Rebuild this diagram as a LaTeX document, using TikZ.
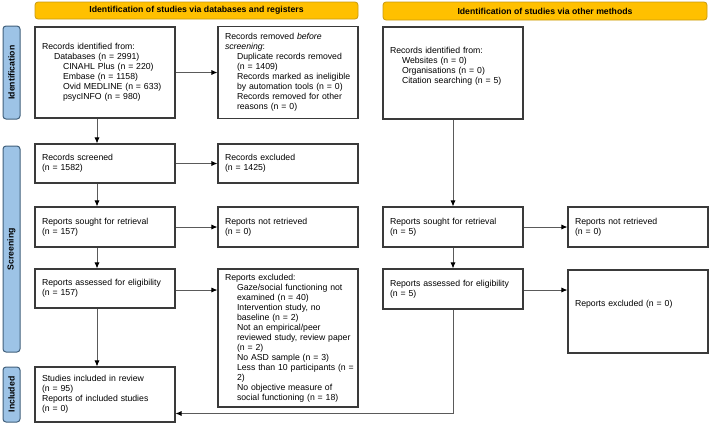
\documentclass[tikz,border=0pt]{standalone}
\usepackage{fontspec}
\setmainfont{Liberation Sans}
\usetikzlibrary{arrows.meta,calc}
\definecolor{boxc}{HTML}{3A3A3A}
\definecolor{arrc}{HTML}{5A5A5A}
\definecolor{gold}{HTML}{FFC000}
\definecolor{goldb}{HTML}{C89A10}
\definecolor{tabf}{HTML}{9DC3E6}
\definecolor{tabb}{HTML}{41607C}
\newcommand\ind[1]{\hspace*{#1pt}}
\begin{document}
\begin{tikzpicture}[x=1pt,y=-1pt,
  txt/.style={font=\fontsize{8.7}{10}\selectfont},
  box/.style={txt,draw=boxc,line width=1.1pt,fill=white,inner sep=7pt,align=left,
    minimum width=140pt,text width=126pt,anchor=center},
  banner/.style={draw=goldb,line width=0.8pt,fill=gold,rounded corners=3pt,
    font=\fontsize{8.7}{10}\selectfont\bfseries,inner sep=0pt,anchor=center},
  tab/.style={draw=tabb,line width=1pt,fill=tabf,rounded corners=3pt,rotate=90,
    font=\fontsize{8.7}{10}\selectfont\bfseries,inner sep=0pt,anchor=center,
    minimum height=17pt},
  arr/.style={draw=arrc,line width=0.8pt,-{Latex[length=6pt,width=5pt,color=black]}}]
\useasboundingbox (0,0) rectangle (709,424);
% banners
\node[banner,minimum width=323pt,minimum height=17pt] (b1) at (196.5,10.5) {Identification of studies via databases and registers};
\node[banner,minimum width=324pt,minimum height=18pt] (b2) at (545,11) {Identification of studies via other methods};
% tabs
\node[tab,minimum width=93pt] (t1) at (11.5,72.5) {Identification};
\node[tab,minimum width=206pt] (t2) at (11.5,249) {Screening};
\node[tab,minimum width=55pt] (t3) at (11.5,394.5) {Included};
% boxes
\node[box,minimum height=91pt] (A) at (105,72.5) {Records identified from:\\
\ind{12}Databases (n = 2991)\\
\ind{21}CINAHL Plus (n = 220)\\
\ind{21}Embase (n = 1158)\\
\ind{21}Ovid MEDLINE (n = 633)\\
\ind{21}psycINFO (n = 980)};
\node[box,minimum height=91pt] (B) at (288,72.5) {Records removed \emph{before}\\
\emph{screening}:\\
\ind{12}Duplicate records removed\\
\ind{12}(n = 1409)\\
\ind{12}Records marked as ineligible\\
\ind{12}by automation tools (n = 0)\\
\ind{12}Records removed for other\\
\ind{12}reasons (n = 0)};
\node[box,minimum height=92pt] (C) at (453,73) {Records identified from:\\
\ind{12}Websites (n = 0)\\
\ind{12}Organisations (n = 0)\\
\ind{12}Citation searching (n = 5)\\[6pt]\mbox{}};
\node[box,minimum height=39pt] (D) at (105,163.5) {Records screened\\(n = 1582)};
\node[box,minimum height=39pt] (E) at (288,163.5) {Records excluded\\(n = 1425)};
\node[box,minimum height=40pt] (F) at (105,227) {Reports sought for retrieval\\(n = 157)};
\node[box,minimum height=40pt] (G) at (288,227) {Reports not retrieved\\(n = 0)};
\node[box,minimum height=40pt] (H) at (453,227) {Reports sought for retrieval\\(n = 5)};
\node[box,minimum height=40pt] (I) at (638,227) {Reports not retrieved\\(n = 0)};
\node[box,minimum height=39pt] (J) at (105,288.5) {Reports assessed for eligibility\\(n = 157)};
\node[box,minimum height=138pt,inner ysep=3pt] (K) at (288,338) {Reports excluded:\\
\ind{12}Gaze/social functioning not\\
\ind{12}examined (n = 40)\\
\ind{12}Intervention study, no\\
\ind{12}baseline (n = 2)\\
\ind{12}Not an empirical/peer\\
\ind{12}reviewed study, review paper\\
\ind{12}(n = 2)\\
\ind{12}No ASD sample (n = 3)\\
\ind{12}\mbox{Less than 10 participants (n =}\\
\ind{12}2)\\
\ind{12}No objective measure of\\
\ind{12}social functioning (n = 18)};
\node[box,minimum height=40pt] (L) at (453,289) {Reports assessed for eligibility\\(n = 5)};
\node[box,minimum height=83pt] (M) at (638,311.5) {Reports excluded (n = 0)\\[6pt]\mbox{}};
\node[box,minimum height=55pt] (N) at (105,394.5) {Studies included in review\\(n = 95)\\Reports of included studies\\(n = 0)};
% connectors
\coordinate (lc) at (97,0);
\coordinate (nin) at (175.5,413.5);
\path (J.east) ++(0,1.5) coordinate (jk);
\path (L.east) ++(0,1) coordinate (lm);
\draw[arr] (A.south -| lc) -- (D.north -| lc);
\draw[arr] (D.south -| lc) -- (F.north -| lc);
\draw[arr] (F.south -| lc) -- (J.north -| lc);
\draw[arr] (J.south -| lc) -- (N.north -| lc);
\draw[arr] (A.east) -- (B.west);
\draw[arr] (D.east) -- (E.west);
\draw[arr] (F.east) -- (G.west);
\draw[arr] (jk) -- (jk -| K.west);
\draw[arr] (C.south) -- (H.north);
\draw[arr] (H.south) -- (L.north);
\draw[arr] (H.east) -- (I.west);
\draw[arr] (lm) -- (lm -| M.west);
\draw[arr] (L.south) |- (nin);
\end{tikzpicture}
\end{document}
